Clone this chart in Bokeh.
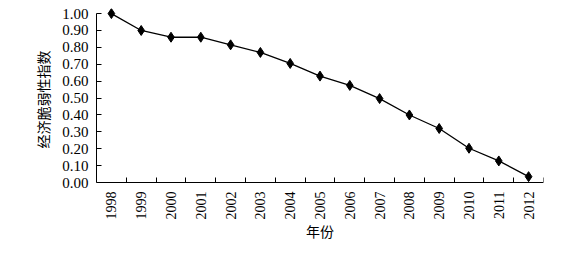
import math
from bokeh.plotting import figure
from bokeh.models import FixedTicker, Range1d, LabelSet, ColumnDataSource, Label, Title
from bokeh.embed import file_html
from bokeh.resources import INLINE

years = ["1998", "1999", "2000", "2001", "2002", "2003", "2004", "2005",
         "2006", "2007", "2008", "2009", "2010", "2011", "2012"]
values = [1.00, 0.90, 0.86, 0.86, 0.815, 0.77, 0.705, 0.63,
          0.575, 0.497, 0.40, 0.32, 0.203, 0.128, 0.035]
y_ticks = [0.0, 0.1, 0.2, 0.3, 0.4, 0.5, 0.6, 0.7, 0.8, 0.9, 1.0]
y_label = "经济脆弱性指数"
x_label = "年份"

n = len(years)
xs = [i + 0.5 for i in range(n)]
boundaries = list(range(1, n + 1))

# frame 447 x 240 px; 169 px per unit on y
p = figure(frame_width=447, frame_height=240, output_backend="svg",
           toolbar_location=None,
           x_range=Range1d(0, n), y_range=Range1d(1.03 - 240 / 169, 1.03),
           min_border_left=96, min_border_right=28, min_border_top=8,
           min_border_bottom=0)
p.outline_line_color = None
p.grid.visible = False
p.background_fill_color = "white"
p.border_fill_color = "white"

p.line(xs, values, line_color="black", line_width=1.3)
p.scatter(xs, values, marker="diamond", size=10, fill_color="black", line_color="black")

# y axis
ya = p.yaxis[0]
ya.ticker = FixedTicker(ticks=y_ticks, minor_ticks=[])
ya.bounds = (0, 1)
ya.major_label_overrides = {t: f"{t:.2f}" for t in y_ticks}
ya.major_tick_in = 5
ya.major_tick_out = 0
ya.minor_tick_in = 0
ya.minor_tick_out = 0
ya.axis_line_color = "black"
ya.major_tick_line_color = "black"
ya.major_label_text_font = "Liberation Serif"
ya.major_label_text_font_size = "15px"
ya.major_label_text_color = "black"
ya.major_label_standoff = 8

# y axis title, placed along the 0..1 part of the axis
p.add_layout(Title(text=y_label, align="left", offset=100, standoff=14,
                   text_font="Noto Sans CJK SC", text_font_size="14px",
                   text_font_style="normal", text_color="black"), "left")

# x axis drawn at y = 0, tick marks at category boundaries
xa = p.xaxis[0]
xa.fixed_location = 0
xa.ticker = FixedTicker(ticks=[], minor_ticks=boundaries)
xa.major_tick_in = 0
xa.major_tick_out = 0
xa.minor_tick_in = 5
xa.minor_tick_out = 0
xa.minor_tick_line_color = "black"
xa.axis_line_color = "black"
xa.major_label_standoff = 0

src = ColumnDataSource(dict(x=xs, y=[0] * n, t=years))
p.add_layout(LabelSet(x="x", y="y", text="t", source=src, angle=math.pi / 2,
                      y_offset=-9, text_align="right", text_baseline="middle",
                      text_font="Liberation Serif", text_font_size="14px",
                      text_color="black"))
p.add_layout(Label(x=n / 2, y=0, y_offset=-48, text=x_label,
                   text_align="center", text_baseline="middle",
                   text_font="Noto Sans CJK SC", text_font_size="14px",
                   text_color="black"))

open("out.html", "w").write(file_html(p, INLINE))
